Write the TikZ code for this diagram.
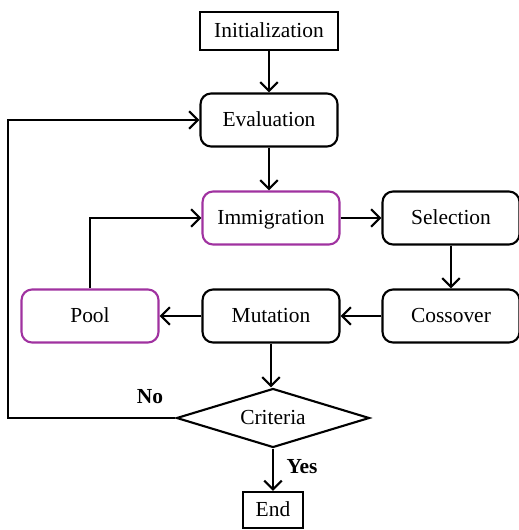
\documentclass[tikz,border=0pt]{standalone}
\usepackage{fontspec}
\setmainfont{Liberation Serif}
\usetikzlibrary{shapes.geometric,arrows.meta}
\definecolor{poolpurple}{RGB}{160,50,160}
\tikzset{
	box/.style={draw, line width=1.2pt, rounded corners=6pt, minimum width=2.74cm, minimum height=1.06cm, inner sep=0pt, text height=1.5ex, text depth=0pt},
	purplebox/.style={box, draw=poolpurple},
	plainbox/.style={draw, line width=1.2pt, inner sep=0pt, text height=1.5ex, text depth=0pt},
	flow/.style={line width=1.2pt, -{Straight Barb[length=5pt, width=10pt, line width=1.2pt]}},
}
\begin{document}
\begin{tikzpicture}[x=0.02cm, y=-0.02cm, font=\fontsize{12.2}{14}\selectfont]
	\useasboundingbox (0,0) rectangle (519,530); % Rand wie Vorlage
	
	\node[plainbox, minimum width=2.76cm, minimum height=0.76cm] (init) at (269,31) {Initialization};
	\node[box] (eval) at (269,120) {Evaluation};
	\node[purplebox] (immi) at (271,218) {Immigration};
	\node[box] (sel) at (451,218) {Selection};
	\node[purplebox] (pool) at (90,316) {Pool};
	\node[box] (mut) at (271,316) {Mutation};
	\node[box] (cross) at (451,316) {Cossover};
	\node[diamond, aspect=3.3, draw, line width=1.2pt, inner sep=0pt, text height=1.5ex, text depth=0pt, minimum width=3.86cm, minimum height=1.18cm] (crit) at (273,418) {Criteria};
	\node[plainbox, minimum width=1.2cm, minimum height=0.72cm] (end) at (273,510) {End};
	
	\coordinate (loopdown) at (8,418); % Rueckfuehrung links
	\coordinate (loopup) at (8,120);
	
	\draw[flow] (init) -- (eval);
	\draw[flow] (eval) -- (eval |- immi.north);
	\draw[flow] (immi) -- (sel);
	\draw[flow] (sel) -- (cross);
	\draw[flow] (cross) -- (mut);
	\draw[flow] (mut) -- (pool);
	\draw[flow] (pool.north) |- (immi.west);
	\draw[flow] (mut.south) -- (mut.south |- crit.north);
	\draw[flow] (crit.south) -- (end.north -| crit.south);
	\draw[flow] (crit.west) -- (loopdown) -- (loopup) -- (eval.west);
	
	\node[font=\fontsize{12.2}{14}\selectfont\bfseries] (no) at (150,397) {No};
	\node[font=\fontsize{12.2}{14}\selectfont\bfseries] (yes) at (302,467) {Yes};
\end{tikzpicture}
\end{document}
